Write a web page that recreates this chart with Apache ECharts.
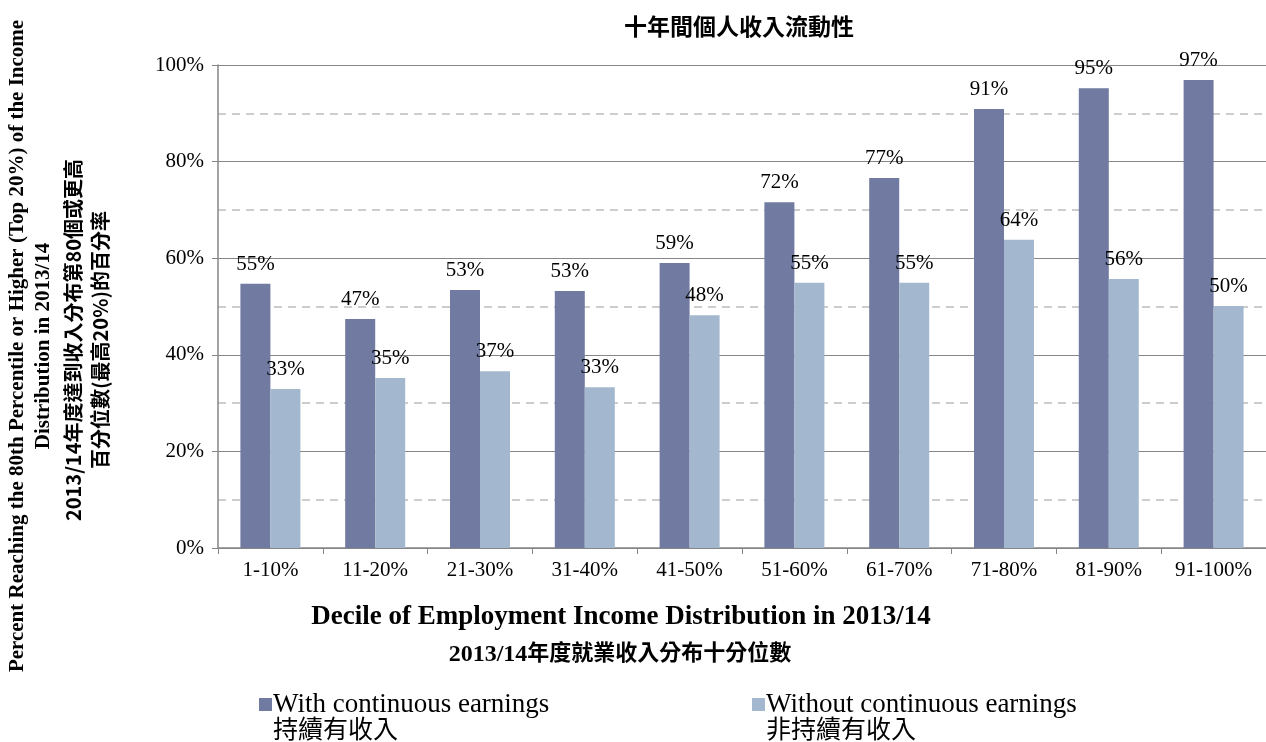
<!DOCTYPE html>
<html>
<head>
<meta charset="utf-8">
<script src="https://cdn.jsdelivr.net/npm/echarts@6/dist/echarts.min.js"></script>
<style>
  html, body { margin: 0; padding: 0; background: #fff; }
  #chart { width: 1266px; height: 742px; }
</style>
</head>
<body>
<div id="chart"></div>
<script>
const categories = ['1-10%', '11-20%', '21-30%', '31-40%', '41-50%', '51-60%', '61-70%', '71-80%', '81-90%', '91-100%']
const withContinuous = [54.7, 47.4, 53.4, 53.2, 59.0, 71.6, 76.6, 90.9, 95.2, 96.9]
const withoutContinuous = [32.9, 35.2, 36.6, 33.3, 48.2, 54.9, 54.9, 63.8, 55.7, 50.1]
const seriesNames = ['With continuous earnings', 'Without continuous earnings']
const seriesNamesZh = ['持續有收入', '非持續有收入']

const serif = '"Liberation Serif", "Times New Roman", serif'
const cjk = '"Noto Sans CJK TC", "Noto Sans CJK SC", sans-serif'

const chart = echarts.init(document.getElementById('chart'))

const barLabel = {
  show: true,
  position: 'top',
  distance: 9,
  color: '#000',
  fontFamily: serif,
  fontSize: 21,
  formatter: (p) => Math.round(p.value) + '%',
}

// rotated y-axis title lines
function yTitle(text, x, y, font) {
  return {
    type: 'text',
    x: x,
    y: y,
    rotation: Math.PI / 2,
    style: { text: text, font: font, fill: '#000', align: 'center', verticalAlign: 'middle' },
  }
}

chart.setOption({
  animation: false,
  textStyle: { fontFamily: serif },
  grid: { left: 218, top: 65, width: 1055, height: 483 },
  title: [
    {
      text: '十年間個人收入流動性',
      left: 734,
      textAlign: 'center',
      top: 10,
      textStyle: { fontFamily: cjk, fontSize: 23, fontWeight: 'bold', color: '#000' },
    },
    {
      text: 'Decile of Employment Income Distribution in 2013/14',
      left: 616,
      textAlign: 'center',
      top: 599,
      textStyle: { fontFamily: serif, fontSize: 27, fontWeight: 'bold', color: '#000' },
    },
    {
      text: '{a|2013/14}{b|年度就業收入分布十分位數}',
      left: 615,
      textAlign: 'center',
      top: 632,
      textStyle: {
        rich: {
          a: { fontFamily: serif, fontSize: 24, fontWeight: 'bold', color: '#000', lineHeight: 30, padding: [5, 0, 0, 0] },
          b: { fontFamily: cjk, fontSize: 22, fontWeight: 'bold', color: '#000', lineHeight: 30 },
        },
      },
    },
  ],
  legend: [
    {
      data: [seriesNames[0]],
      left: 254,
      top: 686,
      itemWidth: 13,
      itemHeight: 13,
      icon: 'rect',
      textStyle: { fontFamily: serif, fontSize: 27, color: '#000', padding: [0, 0, 0, -4] },
    },
    {
      data: [seriesNames[1]],
      left: 747,
      top: 686,
      itemWidth: 13,
      itemHeight: 13,
      icon: 'rect',
      textStyle: { fontFamily: serif, fontSize: 27, color: '#000', padding: [0, 0, 0, -4] },
    },
  ],
  graphic: [
    {
      type: 'text',
      left: 273,
      top: 716,
      style: { text: seriesNamesZh[0], font: '25px ' + cjk, fill: '#000' },
    },
    {
      type: 'text',
      left: 766,
      top: 716,
      style: { text: seriesNamesZh[1], font: '25px ' + cjk, fill: '#000' },
    },
    yTitle('Percent Reaching the 80th Percentile or Higher (Top 20%) of the Income', 18, 346, 'bold 21px ' + serif),
    yTitle('Distribution in 2013/14', 44, 346, 'bold 21px ' + serif),
    yTitle('2013/14年度達到收入分布第80個或更高', 73, 340, 'bold 20px ' + cjk),
    yTitle('百分位數(最高20%)的百分率', 100, 340, 'bold 20px ' + cjk),
  ],
  xAxis: {
    type: 'category',
    data: categories,
    axisLine: { lineStyle: { color: '#868686', width: 1.5 } },
    axisTick: { show: true, length: 6, lineStyle: { color: '#868686' } },
    axisLabel: { color: '#000', fontFamily: serif, fontSize: 21, margin: 12 },
  },
  yAxis: {
    type: 'value',
    min: 0,
    max: 100,
    interval: 20,
    axisLine: { show: true, lineStyle: { color: '#868686', width: 1.5 } },
    axisTick: { show: true, length: 6, lineStyle: { color: '#868686' } },
    axisLabel: { color: '#000', fontFamily: serif, fontSize: 21, margin: 14, formatter: '{value}%' },
    splitLine: { show: true, lineStyle: { color: '#868686', width: 1.2 } },
    minorTick: { show: false, splitNumber: 2 },
    minorSplitLine: { show: true, lineStyle: { color: '#bdbdbd', type: [8, 6], width: 1.5 } },
  },
  series: [
    {
      name: seriesNames[0],
      type: 'bar',
      data: withContinuous,
      barWidth: 30,
      barGap: '0%',
      itemStyle: { color: '#717ba1' },
      label: barLabel,
    },
    {
      name: seriesNames[1],
      type: 'bar',
      data: withoutContinuous,
      barWidth: 30,
      itemStyle: { color: '#a3b8ce' },
      label: barLabel,
    },
  ],
})
</script>
</body>
</html>
